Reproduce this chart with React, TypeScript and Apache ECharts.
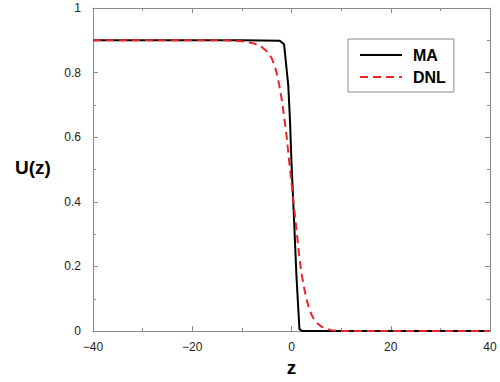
import React, { useEffect, useRef } from "react";
import * as echarts from "echarts";

const maZ = [-40, -10, -2.4, -1.5, -0.65, -0.3, 0, 0.5, 1.0, 1.6, 2.2, 10, 40];
const maU = [0.9, 0.9, 0.899, 0.888, 0.76, 0.65, 0.52, 0.35, 0.17, 0.006, 0, 0, 0];

const dnlZ = [-40, -14, -12, -10, -8, -7, -6, -5, -4, -3.5, -3, -2.5, -2, -1.5, -1, -0.5, 0, 0.5, 1, 1.5, 2, 2.5, 3, 3.5, 4, 4.5, 5, 6, 7, 8, 9, 10, 40];
const dnlU = [0.9, 0.9, 0.899, 0.897, 0.892, 0.887, 0.879, 0.866, 0.845, 0.826, 0.8, 0.763, 0.72, 0.665, 0.605, 0.53, 0.46, 0.385, 0.315, 0.24, 0.18, 0.137, 0.1, 0.073, 0.052, 0.037, 0.027, 0.014, 0.007, 0.003, 0.001, 0, 0];

const xTicks = [-40, -20, 0, 20, 40];
const yTicks = [0, 0.2, 0.4, 0.6, 0.8, 1];

const seriesNames = ["MA", "DNL"];

const pairs = (xs: number[], ys: number[]) => xs.map((x, i) => [x, ys[i]]);

export default function App() {
  const ref = useRef<HTMLDivElement>(null);
  useEffect(() => {
    if (!ref.current) return;
    const chart = echarts.init(ref.current, null, { renderer: "svg" });
    const font = "'Liberation Sans', Arial, Helvetica, sans-serif";
    const axisColor = "#8a8a8a";
    const baseX = {
      type: "value" as const,
      min: -40,
      max: 40,
      interval: 20,
      axisLine: { show: true, onZero: false, lineStyle: { color: axisColor, width: 1 } },
      axisTick: { show: true, inside: true, length: 5, lineStyle: { color: axisColor } },
      minorTick: { show: true, splitNumber: 2, length: 3, lineStyle: { color: axisColor } },
      splitLine: { show: false },
    };
    const baseY = {
      type: "value" as const,
      min: 0,
      max: 1,
      interval: 0.2,
      axisLine: { show: true, onZero: false, lineStyle: { color: axisColor, width: 1 } },
      axisTick: { show: true, inside: true, length: 5, lineStyle: { color: axisColor } },
      minorTick: { show: true, splitNumber: 2, length: 3, lineStyle: { color: axisColor } },
      splitLine: { show: false },
    };
    chart.setOption({
      animation: false,
      backgroundColor: "#ffffff",
      grid: { left: 93, right: 10, top: 8, bottom: 43, containLabel: false },
      legend: {
        show: true,
        data: seriesNames,
        orient: "vertical",
        left: 348,
        top: 39,
        width: 102,
        padding: [8, 8, 7, 11],
        itemGap: 6,
        itemWidth: 42,
        itemHeight: 14,
        borderColor: "#8a8a8a",
        borderWidth: 1,
        backgroundColor: "#ffffff",
        itemStyle: { opacity: 0 },
        textStyle: {
          fontFamily: font,
          fontWeight: "bold",
          fontSize: 16,
          color: "#000",
          padding: [0, 0, 0, 6],
        },
      },
      xAxis: [
        {
          ...baseX,
          position: "bottom",
          axisLabel: {
            show: true,
            margin: 10,
            fontFamily: font,
            fontSize: 12,
            color: "#222",
            formatter: (v: number) => (xTicks.includes(v) ? String(v).replace("-", "\u2212") : ""),
          },
          name: "z",
          nameLocation: "middle",
          nameGap: 26,
          nameTextStyle: { fontFamily: font, fontWeight: "bold", fontSize: 19, color: "#000" },
        },
        {
          ...baseX,
          position: "top",
          axisLabel: { show: false },
        },
      ],
      yAxis: [
        {
          ...baseY,
          position: "left",
          axisLabel: {
            show: true,
            margin: 12,
            fontFamily: font,
            fontSize: 12,
            color: "#222",
            formatter: (v: number) => {
              const r = Math.round(v * 10) / 10;
              return yTicks.some((t) => Math.abs(t - r) < 1e-9) ? (r === 0 || r === 1 ? String(r) : r.toFixed(1)) : "";
            },
          },
        },
        {
          ...baseY,
          position: "right",
          axisLabel: { show: false },
        },
      ],
      graphic: [
        {
          type: "text",
          left: 15,
          top: 158,
          style: {
            text: "U(z)",
            font: `bold 19px ${font}`,
            fill: "#000",
          },
        },
      ],
      series: [
        {
          name: seriesNames[0],
          type: "line",
          xAxisIndex: 0,
          yAxisIndex: 0,
          data: pairs(maZ, maU),
          symbol: "none",
          showSymbol: false,
          smooth: false,
          z: 3,
          itemStyle: { color: "#000000" },
          lineStyle: { color: "#000000", width: 2 },
        },
        {
          name: seriesNames[1],
          type: "line",
          xAxisIndex: 0,
          yAxisIndex: 0,
          data: pairs(dnlZ, dnlU),
          symbol: "none",
          showSymbol: false,
          smooth: false,
          z: 4,
          itemStyle: { color: "#e8262b" },
          lineStyle: { color: "#e8262b", width: 2, type: [8, 5] },
        },
      ],
    });
    return () => chart.dispose();
  }, []);
  return (
    <div
      ref={ref}
      style={{ width: 500, height: 382, position: "absolute", left: 0, top: 0, background: "#fff" }}
    />
  );
}
